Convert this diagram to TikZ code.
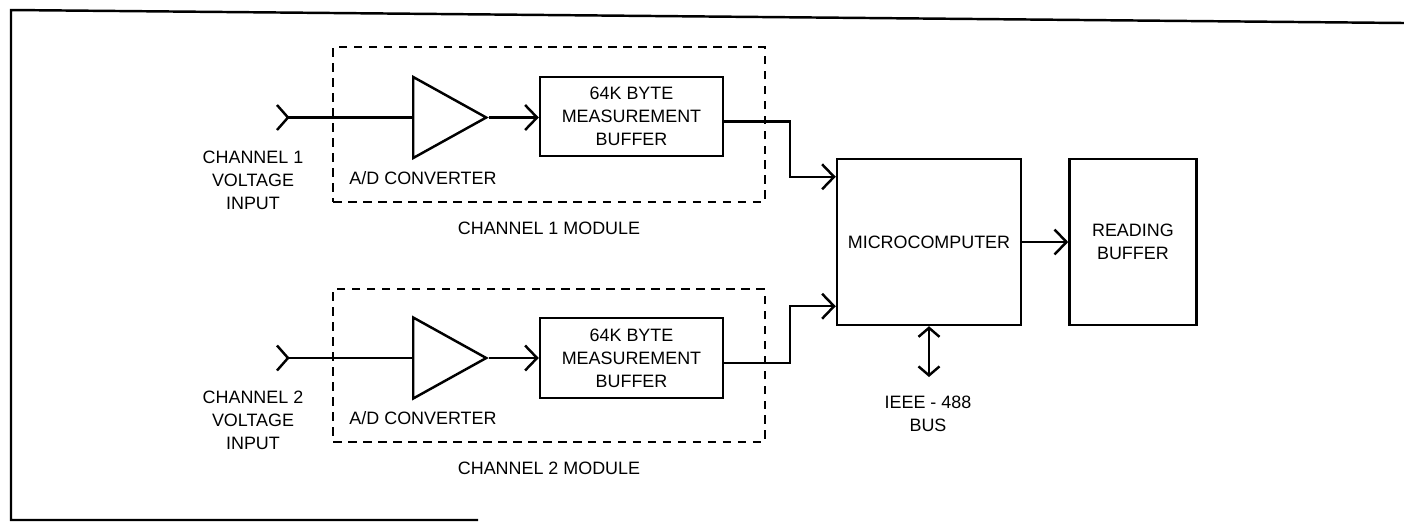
\documentclass[tikz,border=0pt]{standalone}
\usepackage{fontspec}
\setmainfont{Liberation Sans}
\usetikzlibrary{shapes.geometric,arrows.meta,positioning,calc}

\begin{document}
\begin{tikzpicture}[
    x=0.02cm, y=-0.02cm,
    line width=1.4pt,
    every node/.style={font=\fontsize{10.2}{13}\selectfont},
    block/.style={rectangle, draw, align=center, inner sep=0pt},
    ampblock/.style={isosceles triangle, isosceles triangle stretches, draw,
                     inner sep=0pt, minimum height=1.46cm, minimum width=1.62cm, anchor=west},
    modulebox/.style={rectangle, draw, dash pattern=on 0.17cm off 0.13cm,
                      inner sep=0pt, minimum width=8.64cm},
    lbl/.style={align=center, inner sep=0pt},
    myarrow/.style={-{Straight Barb[length=0.24cm, width=0.5cm]}},
    mybiarrow/.style={{Straight Barb[length=0.18cm, width=0.42cm]}-{Straight Barb[length=0.18cm, width=0.42cm]}},
]
\useasboundingbox (0,0) rectangle (1404,522);

% --- Frame ---
\draw (1404,23) -- (11,10) -- (11,520) -- (478,520);

% --- Channel 1 module ---
\node[modulebox, minimum height=3.1cm] (mod1) at (549,124.5) {};
\node[ampblock] (amp1) at (412,117.5) {};
\node[block, minimum width=3.66cm, minimum height=1.58cm] (buf1) at (631.5,116.5) {64K BYTE\\MEASUREMENT\\BUFFER};
\coordinate (in1) at (288,117.5);
\node[lbl] (in1lbl) at (253,180) {CHANNEL 1\\VOLTAGE\\INPUT};
\node[lbl] (adc1) at (423,178) {A/D CONVERTER};
\node[lbl, below=0.35cm of mod1] (mod1lbl) {CHANNEL 1 MODULE};

% --- Channel 2 module ---
\node[modulebox, minimum height=3.06cm] (mod2) at (549,365.5) {};
\node[ampblock] (amp2) at (412,358) {};
\node[block, minimum width=3.66cm, minimum height=1.6cm] (buf2) at (631.5,358) {64K BYTE\\MEASUREMENT\\BUFFER};
\coordinate (in2) at (288,358);
\node[lbl] (in2lbl) at (253,420) {CHANNEL 2\\VOLTAGE\\INPUT};
\node[lbl] (adc2) at (423,418) {A/D CONVERTER};
\node[lbl, below=0.35cm of mod2] (mod2lbl) {CHANNEL 2 MODULE};

% --- Microcomputer and reading buffer ---
\node[block, minimum width=3.68cm, minimum height=3.32cm] (micro) at (929,242) {MICROCOMPUTER};
\node[block, right=0.92cm of micro, minimum width=2.54cm, minimum height=3.32cm] (read) {READING\\BUFFER};
\node[lbl] (bus) at (928,414) {IEEE - 488\\BUS};

% --- Input chevrons ---
\draw (in1) ++(-11,-12.5) -- (in1) -- ++(-11,12.5);
\draw (in2) ++(-11,-12.5) -- (in2) -- ++(-11,12.5);

% --- Arrows ---
\draw (in1) -- (amp1.west);
\draw (in2) -- (amp2.west);
\draw[myarrow] (amp1.apex) -- (buf1.west |- amp1.apex);
\draw[myarrow] (amp2.apex) -- (buf2.west |- amp2.apex);
\draw[myarrow] ([yshift=-0.1cm]buf1.east) -- ++(66,0) |- ([yshift=-0.38cm]micro.north west);
\draw[myarrow] ([yshift=-0.1cm]buf2.east) -- ++(66,0) |- ([yshift=0.4cm]micro.south west);
\draw[myarrow] (micro.east) -- (micro.east -| read.west);
\draw[mybiarrow, shorten >=0.36cm] (micro.south) -- (micro.south |- bus.north);

\end{tikzpicture}
\end{document}
